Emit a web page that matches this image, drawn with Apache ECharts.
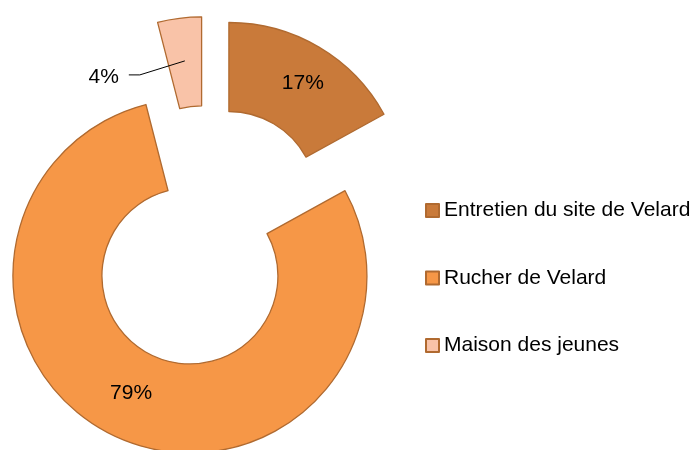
<!DOCTYPE html>
<html>
<head>
<meta charset="utf-8">
<script src="https://cdn.jsdelivr.net/npm/echarts@6/dist/echarts.min.js"></script>
<style>
html,body{margin:0;padding:0;background:#fff;}
#chart{width:694px;height:450px;}
</style>
</head>
<body>
<div id="chart"></div>
<script>
var categories = ['Entretien du site de Velard', 'Rucher de Velard', 'Maison des jeunes'];
var values = [17, 79, 4];
var colors = ['#C97A3A', '#F69747', '#F9C3A8'];
var insideLabel = [true, true, false];

var FONT = "'Liberation Sans', Arial, sans-serif";
var chart = echarts.init(document.getElementById('chart'), null, {renderer: 'canvas'});

var innerR = 88, outerR = 177, explode = 43, center = [207, 236.5];

var mainData = categories.map(function (c, i) {
  return {
    name: c, value: values[i], selected: true,
    itemStyle: { color: colors[i] },
    label: { show: insideLabel[i] }
  };
});
var overlayData = categories.map(function (c, i) {
  return {
    name: 'overlay ' + i, value: values[i], selected: true,
    label: { show: !insideLabel[i] },
    labelLine: { show: !insideLabel[i] }
  };
});

var common = {
  type: 'pie',
  center: center,
  radius: [innerR, outerR],
  startAngle: 90,
  clockwise: true,
  selectedMode: 'multiple',
  selectedOffset: explode,
  avoidLabelOverlap: false,
  percentPrecision: 0,
  emphasis: { disabled: true }
};

chart.setOption({
  animation: false,
  backgroundColor: '#ffffff',
  legend: {
    orient: 'vertical',
    left: 425,
    top: 200,
    padding: 0,
    itemWidth: 13,
    itemHeight: 13,
    itemGap: 46.5,
    icon: 'rect',
    selectedMode: false,
    textStyle: { fontFamily: FONT, fontSize: 21, color: '#000', lineHeight: 21 },
    data: categories
  },
  series: [
    Object.assign({}, common, {
      z: 2,
      itemStyle: { borderColor: '#B06A30', borderWidth: 1.3 },
      label: { position: 'inside', formatter: '{d}%', fontFamily: FONT, fontSize: 21, color: '#000' },
      labelLine: { show: false },
      data: mainData,
      labelLayout: function (p) {
        if (p.dataIndex === 0) return { dx: 5, dy: 0 };
        if (p.dataIndex === 1) return { dx: -5, dy: -7 };
        return {};
      }
    }),
    Object.assign({}, common, {
      z: 5,
      silent: true,
      itemStyle: { color: 'rgba(0,0,0,0)', borderWidth: 0 },
      label: { position: 'outside', formatter: '{d}%', fontFamily: FONT, fontSize: 21, color: '#000' },
      labelLine: { length: 10, length2: 10, lineStyle: { color: '#000', width: 1 } },
      data: overlayData,
      labelLayout: function (p) {
        if (!p.labelLinePoints) return {};
        var p0 = p.labelLinePoints[0], p1 = p.labelLinePoints[1];
        var ux = p1[0] - p0[0], uy = p1[1] - p0[1];
        var L = Math.sqrt(ux * ux + uy * uy) || 1;
        ux /= L; uy /= L;
        var a = [p0[0] - ux * explode, p0[1] - uy * explode];
        var b = [a[0] - 45, a[1] + 14];
        var c = [b[0] - 11, b[1]];
        var r = p.labelRect;
        return {
          dx: (c[0] - 10) - (r.x + r.width),
          dy: (c[1] + 2) - (r.y + r.height / 2),
          labelLinePoints: [a, b, c]
        };
      }
    })
  ]
});
</script>
</body>
</html>
